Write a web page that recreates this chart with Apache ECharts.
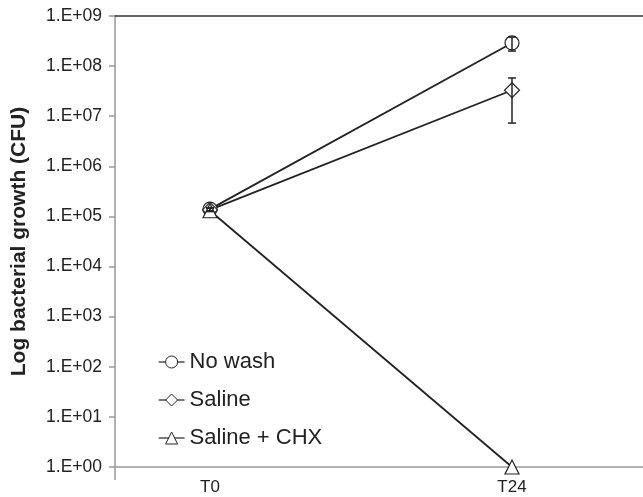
<!DOCTYPE html>
<html><head><meta charset="utf-8">
<script src="https://cdn.jsdelivr.net/npm/echarts@6/dist/echarts.min.js"></script>
<style>html,body{margin:0;padding:0;background:#fff}#c{width:643px;height:497px}</style>
</head><body><div id="c"></div>
<script>
var categories = ['T0', 'T24'];
var seriesNames = ['No wash', 'Saline', 'Saline + CHX'];
var noWash = [1.4e5, 2.9e8];
var saline = [1.35e5, 3.3e7];
var salineCHX = [1.3e5, 1];
var noWashLow = [1.3e5, 2.0e8];
var noWashHigh = [1.5e5, 3.8e8];
var salineLow = [1.25e5, 7.3e6];
var salineHigh = [1.45e5, 5.8e7];

function pts(arr){ return arr.map(function(v,i){ return [i, v]; }); }
function errData(lo, hi){ return lo.map(function(v,i){ return [i, v, hi[i]]; }); }
function fmt(v){ var e = Math.round(Math.log10(v)); return '1.E+' + (e < 10 ? '0' + e : e); }

function errRender(params, api){
  var x = api.value(0);
  var p1 = api.coord([x, api.value(1)]);
  var p2 = api.coord([x, api.value(2)]);
  var w = 4;
  var st = {stroke:'#222', lineWidth:1.5};
  return {type:'group', children:[
    {type:'line', shape:{x1:p1[0],y1:p1[1],x2:p2[0],y2:p2[1]}, style:st},
    {type:'line', shape:{x1:p1[0]-w,y1:p1[1],x2:p1[0]+w,y2:p1[1]}, style:st},
    {type:'line', shape:{x1:p2[0]-w,y1:p2[1],x2:p2[0]+w,y2:p2[1]}, style:st}
  ]};
}

var FONT = 'Liberation Sans, Arial, sans-serif';
var XMIN = -0.3146, XMAX = 1.4338;
var chart = echarts.init(document.getElementById('c'));
var lineStyle = {color:'#222', width:1.8};
var itemStyle = {color:'#fff', borderColor:'#222', borderWidth:1.2};
chart.setOption({
  animation:false,
  grid:{left:115, right:0, top:16, bottom:30},
  legend:{
    orient:'vertical', left:158, top:351, padding:0, itemGap:16, itemWidth:26, itemHeight:15,
    itemStyle:{borderWidth:1},
    lineStyle:{width:1.2},
    textStyle:{fontFamily:FONT, fontSize:22, color:'#222'},
    data:seriesNames
  },
  xAxis:[{
    type:'value', min:XMIN, max:XMAX,
    axisLine:{show:true, lineStyle:{color:'#999', width:1.5}},
    axisTick:{show:true, customValues:[XMIN], length:13, lineStyle:{color:'#999', width:1.5}},
    splitLine:{show:false},
    axisLabel:{customValues:[0,1], formatter:function(v){ return categories[Math.round(v)]; },
      fontFamily:FONT, fontSize:17, color:'#222', margin:12}
  },{
    type:'value', min:XMIN, max:XMAX, position:'top',
    axisLine:{show:true, lineStyle:{color:'#333', width:1.5}},
    axisTick:{show:false}, axisLabel:{show:false}, splitLine:{show:false}
  }],
  yAxis:{
    type:'log', logBase:10, min:1, max:1e9,
    name:'Log bacterial growth (CFU)', nameLocation:'middle', nameGap:85,
    nameTextStyle:{fontFamily:FONT, fontSize:21, fontWeight:'bold', color:'#222'},
    axisLine:{show:true, onZero:false, lineStyle:{color:'#999', width:1.5}},
    axisTick:{show:true, length:6, lineStyle:{color:'#999', width:1.5}},
    splitLine:{show:false},
    axisLabel:{formatter:fmt, fontFamily:FONT, fontSize:17.5, color:'#222', margin:13}
  },
  series:[
    {name:seriesNames[0], type:'line', data:pts(noWash), symbol:'circle', symbolSize:14, lineStyle:lineStyle, itemStyle:itemStyle, z:3},
    {name:seriesNames[1], type:'line', data:pts(saline), symbol:'diamond', symbolSize:15, lineStyle:lineStyle, itemStyle:itemStyle, z:3},
    {name:seriesNames[2], type:'line', data:pts(salineCHX), symbol:'triangle', symbolSize:14, lineStyle:lineStyle, itemStyle:itemStyle, z:3},
    {type:'custom', renderItem:errRender, data:errData(noWashLow, noWashHigh), z:5, silent:true},
    {type:'custom', renderItem:errRender, data:errData(salineLow, salineHigh), z:5, silent:true}
  ]
});
</script></body></html>
